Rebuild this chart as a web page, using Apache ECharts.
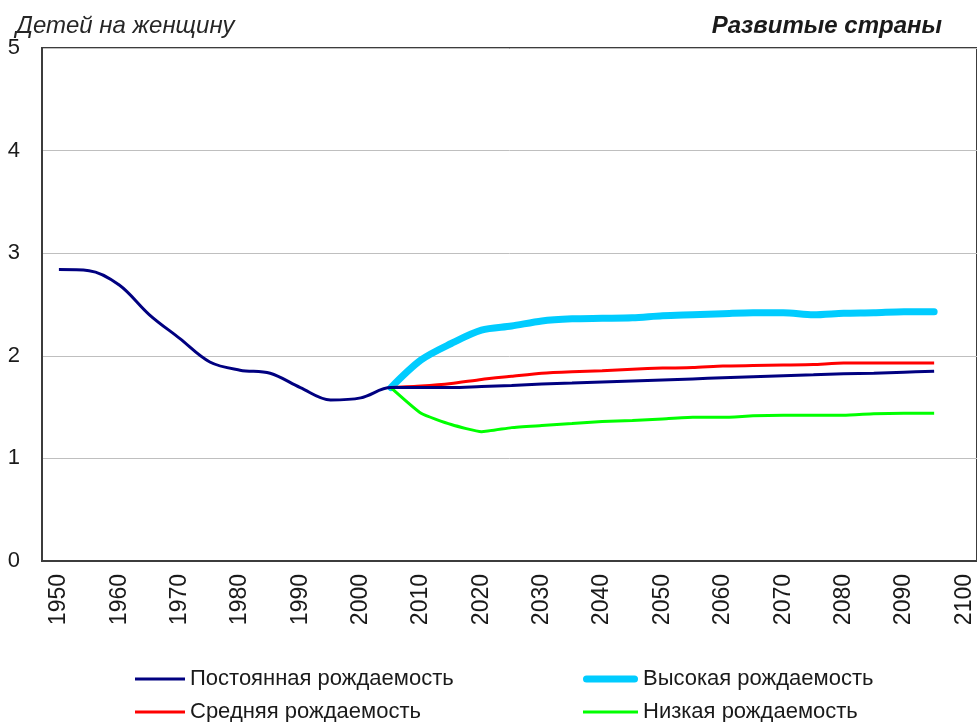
<!DOCTYPE html>
<html><head><meta charset="utf-8">
<script src="https://cdn.jsdelivr.net/npm/echarts@6/dist/echarts.min.js"></script>
<style>html,body{margin:0;padding:0;background:#fff}#c{width:977px;height:722px}</style>
</head><body><div id="c"></div>
<script>
const yearsHist = [1950,1955,1960,1965,1970,1975,1980,1985,1990,1995,2000,2005,2010,2015,2020,2025,2030,2035,2040,2045,2050,2055,2060,2065,2070,2075,2080,2085,2090,2095];
const constantVals = [2.84,2.83,2.69,2.40,2.17,1.94,1.86,1.83,1.69,1.57,1.59,1.69,1.69,1.69,1.70,1.71,1.725,1.735,1.745,1.755,1.765,1.775,1.785,1.795,1.805,1.815,1.825,1.83,1.84,1.85];
const yearsProj = [2005,2010,2015,2020,2025,2030,2035,2040,2045,2050,2055,2060,2065,2070,2075,2080,2085,2090,2095];
const highVals = [1.69,1.96,2.12,2.25,2.29,2.34,2.36,2.365,2.37,2.39,2.40,2.41,2.42,2.42,2.40,2.415,2.42,2.43,2.43];
const mediumVals = [1.69,1.705,1.73,1.77,1.80,1.83,1.845,1.855,1.87,1.88,1.885,1.90,1.905,1.91,1.915,1.93,1.93,1.93,1.93];
const lowVals = [1.69,1.44,1.33,1.26,1.30,1.32,1.34,1.36,1.37,1.385,1.40,1.40,1.415,1.42,1.42,1.42,1.435,1.44,1.44];
const xTickLabels = [1950,1960,1970,1980,1990,2000,2010,2020,2030,2040,2050,2060,2070,2080,2090,2100];
const names = ['Постоянная рождаемость','Высокая рождаемость','Средняя рождаемость','Низкая рождаемость'];

const pair = (xs, ys) => xs.map((x,i)=>[x,ys[i]]);
const font = '"Liberation Sans", Arial, sans-serif';
const legendText = {fontFamily:font,fontSize:22,color:'#1a1a1a'};
const thinIcon = 'path://M0,0H50V3H0Z';
const thickIcon = 'path://M3.5,0H51.5A3.5,3.5,0,0,1,51.5,7H3.5A3.5,3.5,0,0,1,3.5,0Z';
const chart = echarts.init(document.getElementById('c'));
chart.setOption({
  animation:false,
  textStyle:{fontFamily:font},
  title:[
    {text:'Детей на женщину',left:11,top:9,textStyle:{fontFamily:font,fontStyle:'italic',fontWeight:'normal',fontSize:24,color:'#262626'}},
    {text:'Развитые страны',right:30,top:9,textStyle:{fontFamily:font,fontStyle:'italic',fontWeight:'bold',fontSize:24,color:'#1a1a1a'}}
  ],
  grid:{left:42,top:48,right:0,bottom:161,show:true,borderColor:'#3c3c3c',borderWidth:2,containLabel:false},
  legend:[
    {orient:'vertical',left:135,top:668,height:90,padding:0,itemWidth:50,itemHeight:14,itemGap:11,
     data:[{name:names[0],icon:thinIcon},{name:names[2],icon:thinIcon}],textStyle:legendText},
    {orient:'vertical',left:583,top:668,height:90,padding:0,itemWidth:55,itemHeight:14,itemGap:11,
     data:[{name:names[1],icon:thickIcon},{name:names[3],icon:'path://M0,0H55V3H0Z'}],textStyle:legendText}
  ],
  xAxis:{type:'value',min:1947.2,max:2102.1,
    axisLine:{show:true,lineStyle:{color:'#3c3c3c',width:2}},
    axisTick:{show:false},
    splitLine:{show:false},
    axisLabel:{customValues:xTickLabels,formatter:v=>String(v),rotate:90,margin:13,fontSize:23,color:'#1a1a1a',fontFamily:font}
  },
  yAxis:{type:'value',min:0,max:5,interval:1,
    axisLine:{show:true,lineStyle:{color:'#3c3c3c',width:2}},
    axisTick:{show:false},
    splitLine:{show:true,lineStyle:{color:'#bfbfbf',width:1}},
    axisLabel:{margin:22,fontSize:22,color:'#1a1a1a',fontFamily:font,padding:[4,0,0,0]}
  },
  series:[
    {name:names[1],type:'line',data:pair(yearsProj,highVals),symbol:'none',smooth:0.3,
     lineStyle:{color:'#00ccff',width:7,cap:'round'},itemStyle:{color:'#00ccff'},z:2},
    {name:names[3],type:'line',data:pair(yearsProj,lowVals),symbol:'none',smooth:0.15,
     lineStyle:{color:'#00ff00',width:3},itemStyle:{color:'#00ff00'},z:3},
    {name:names[2],type:'line',data:pair(yearsProj,mediumVals),symbol:'none',smooth:0.2,
     lineStyle:{color:'#ff0000',width:3},itemStyle:{color:'#ff0000'},z:4},
    {name:names[0],type:'line',data:pair(yearsHist,constantVals),symbol:'none',smooth:0.35,
     lineStyle:{color:'#000080',width:3},itemStyle:{color:'#000080'},z:5}
  ]
});
</script></body></html>
